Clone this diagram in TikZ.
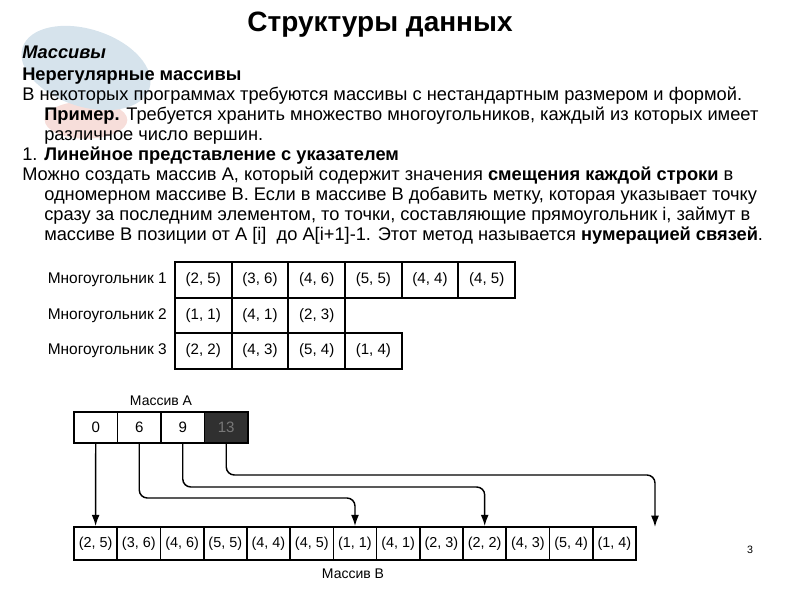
\documentclass[tikz,border=0pt]{standalone}
\usepackage{fontspec}
\setmainfont{Liberation Sans}
\usepackage{xcolor}
\usetikzlibrary{arrows.meta,calc,positioning}
\definecolor{tmplblue}{RGB}{214,227,236}
\definecolor{tmplpink}{RGB}{247,222,218}
\definecolor{markfill}{RGB}{48,48,48}
\definecolor{marktext}{RGB}{120,120,120}
\newcommand{\bodysize}{\fontsize{13.7}{16}\selectfont}
\newcommand{\cellsize}{\fontsize{11.3}{13}\selectfont}

\begin{document}
\begin{tikzpicture}[
  x=0.75pt, y=-0.75pt,
  txt/.style={anchor=base west, inner sep=0pt, font=\bodysize},
  lbl/.style={anchor=east, inner sep=0pt, font=\fontsize{11.6}{13}\selectfont},
  poly/.style={draw, line width=1.3pt, minimum width=42.5pt, minimum height=26.6pt, inner sep=0pt, font=\cellsize},
  acell/.style={draw, line width=1.3pt, minimum width=32.6pt, minimum height=23.3pt, inner sep=0pt, font=\cellsize},
  bcell/.style={draw, line width=1.3pt, minimum width=32.4pt, minimum height=24.8pt, inner sep=0pt, font=\fontsize{10.8}{12}\selectfont},
  arr/.style={-{Latex[length=8.5pt,width=6pt]}, line width=1.1pt, rounded corners=6pt}
]
\useasboundingbox (0,0) rectangle (794,595);
% slide template decoration
\fill[tmplpink] (86,120) ellipse [x radius=31pt, y radius=14pt];
\fill[tmplblue, rotate around={-18:(86,68)}] (86,68) ellipse [x radius=50pt, y radius=29pt];

% heading and text
\node[anchor=base, inner sep=0pt, font=\fontsize{21}{24}\selectfont\bfseries] (title) at (380,32) {Структуры данных};
\node[txt, font=\bodysize\bfseries\itshape] (massivy) at (22,59) {Массивы};
\node[txt, font=\bodysize\bfseries] (irreg) at (22,81) {Нерегулярные массивы};
\node[txt] (ln1) at (22,101) {В некоторых программах требуются массивы с нестандартным размером и формой.};
\node[txt] (ln2) at (44,121) {\textbf{Пример.} Требуется хранить множество многоугольников, каждый из которых имеет};
\node[txt] (ln3) at (44,141) {различное число вершин.};
\node[txt] (ln4) at (22,161) {1. \textbf{Линейное представление с указателем}};
\node[txt] (ln5) at (22,181) {Можно создать массив А, который содержит значения \textbf{смещения каждой строки} в};
\node[txt] (ln6) at (44,201) {одномерном массиве В. Если в массиве В добавить метку, которая указывает точку};
\node[txt] (ln7) at (44,221) {сразу за последним элементом, то точки, составляющие прямоугольник i, займут в};
\node[txt] (ln8) at (44,241) {массиве В позиции от А [i]\ \ до A[i+1]-1. Этот метод называется \textbf{нумерацией связей}.};

% polygons
\node[lbl] (lp1) at (167,280) {Многоугольник 1};
\node[lbl] (lp2) at (167,315.5) {Многоугольник 2};
\node[lbl] (lp3) at (167,351) {Многоугольник 3};
\node[poly] (p11) at (203.3,280) {(2, 5)};
\node[poly] (p12) at (260,280) {(3, 6)};
\node[poly] (p13) at (316.7,280) {(4, 6)};
\node[poly] (p14) at (373.4,280) {(5, 5)};
\node[poly] (p15) at (430,280) {(4, 4)};
\node[poly] (p16) at (486.8,280) {(4, 5)};
\node[poly] (p21) at (203.3,315.5) {(1, 1)};
\node[poly] (p22) at (260,315.5) {(4, 1)};
\node[poly] (p23) at (316.7,315.5) {(2, 3)};
\node[poly] (p31) at (203.3,351) {(2, 2)};
\node[poly] (p32) at (260,351) {(4, 3)};
\node[poly] (p33) at (316.7,351) {(5, 4)};
\node[poly] (p34) at (373.4,351) {(1, 4)};

% array A
\node[inner sep=0pt, font=\fontsize{10.5}{12}\selectfont] (labA) at (161,401) {Массив А};
\node[acell] (a0) at (95.75,427.5) {0};
\node[acell] (a1) at (139.25,427.5) {6};
\node[acell] (a2) at (182.75,427.5) {9};
\node[acell, fill=markfill, text=marktext] (a3) at (226.25,427.5) {13};

% array B
\node[bcell] (b0) at (95.6,543.5) {(2, 5)};
\node[bcell] (b1) at (138.8,543.5) {(3, 6)};
\node[bcell] (b2) at (182.1,543.5) {(4, 6)};
\node[bcell] (b3) at (225.3,543.5) {(5, 5)};
\node[bcell] (b4) at (268.5,543.5) {(4, 4)};
\node[bcell] (b5) at (311.8,543.5) {(4, 5)};
\node[bcell] (b6) at (355.0,543.5) {(1, 1)};
\node[bcell] (b7) at (398.2,543.5) {(4, 1)};
\node[bcell] (b8) at (441.5,543.5) {(2, 3)};
\node[bcell] (b9) at (484.7,543.5) {(2, 2)};
\node[bcell] (b10) at (527.9,543.5) {(4, 3)};
\node[bcell] (b11) at (571.2,543.5) {(5, 4)};
\node[bcell] (b12) at (614.4,543.5) {(1, 4)};
\node[inner sep=0pt, font=\fontsize{10.5}{12}\selectfont] (labB) at (353,574) {Массив В};
\coordinate (endmark) at (655,527);

% offsets
\draw[arr] (a0.south) -- (b0.north);
\draw[arr] (a1.south) -- (a1.south |- 0,498) -- (b6.north |- 0,498) -- (b6.north);
\draw[arr] (a2.south) -- (a2.south |- 0,487) -- (b9.north |- 0,487) -- (b9.north);
\draw[arr] (a3.south) -- (a3.south |- 0,475) -- (endmark |- 0,475) -- (endmark);

\node[inner sep=0pt, font=\fontsize{8}{10}\selectfont] (page) at (750,550) {3};
\end{tikzpicture}
\end{document}
